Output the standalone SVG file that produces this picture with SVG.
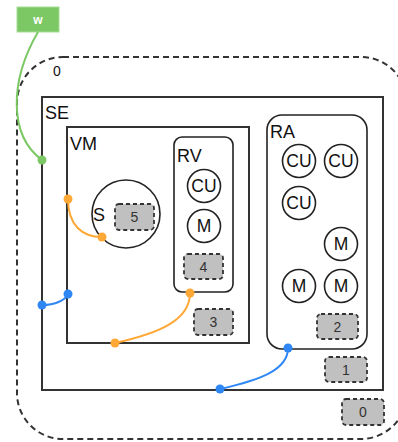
<svg xmlns="http://www.w3.org/2000/svg" width="398" height="442" viewBox="0 0 398 442">
<style>
.box{fill:none;stroke:#333;stroke-width:2}
.circ{fill:#fff;stroke:#222;stroke-width:1.6}
.lbl{font-family:"Liberation Sans",Arial,sans-serif;font-size:18px;fill:#111}
.clbl{font-family:"Liberation Sans",Arial,sans-serif;font-size:17.5px;fill:#111;text-anchor:middle}
.tag{fill:#c0c0c0;stroke:#333;stroke-width:1.8;stroke-dasharray:4,3}
.tagt{font-family:"Liberation Sans",Arial,sans-serif;font-size:14px;fill:#333;text-anchor:middle}
.c-green{fill:none;stroke:#7cc865;stroke-width:2}
.c-orange{fill:none;stroke:#ffa836;stroke-width:2}
.c-blue{fill:none;stroke:#2f87f5;stroke-width:2}
</style>
<rect width="398" height="442" fill="#fff"/>
<g id="n0">
<rect x="17" y="57" width="390" height="382" rx="46" fill="none" stroke="#333" stroke-width="2" stroke-dasharray="6,4"/>
<text x="53" y="76" class="lbl" style="font-size:14px">0</text>
<rect x="342" y="399" width="42" height="26" rx="4" class="tag"/>
<text x="363" y="417" class="tagt">0</text>
</g>
<g id="SE">
<rect x="42" y="97" width="341" height="293" class="box"/>
<text x="45" y="119" class="lbl">SE</text>
<rect x="325" y="357" width="42" height="25" rx="4" class="tag"/>
<text x="346" y="375" class="tagt">1</text>
</g>
<g id="VM">
<rect x="67" y="127" width="182" height="216" class="box"/>
<text x="70" y="150" class="lbl">VM</text>
<rect x="194" y="309" width="39" height="26" rx="4" class="tag"/>
<text x="213.5" y="327" class="tagt">3</text>
</g>
<g id="S">
<circle cx="126" cy="214" r="34" fill="#fff" stroke="#222" stroke-width="1.6"/>
<text x="93" y="221" class="lbl">S</text>
<rect x="115" y="204" width="39" height="26" rx="4" class="tag"/>
<text x="134.5" y="222" class="tagt">5</text>
</g>
<g id="RV">
<rect x="174" y="137" width="59" height="155" rx="8" fill="#fff" stroke="#222" stroke-width="1.6"/>
<text x="177" y="162" class="lbl">RV</text>
<rect x="184" y="254" width="39" height="25" rx="4" class="tag"/>
<text x="203.5" y="272" class="tagt">4</text>
</g>
<g id="RV-CU"><circle cx="204" cy="186" r="16.5" class="circ"/><text x="204" y="192" class="clbl">CU</text></g>
<g id="RV-M"><circle cx="204" cy="226" r="16.5" class="circ"/><text x="204" y="232" class="clbl">M</text></g>
<g id="RA">
<rect x="267" y="115" width="100" height="234" rx="15" fill="#fff" stroke="#222" stroke-width="1.6"/>
<text x="270" y="138" class="lbl">RA</text>
<rect x="317" y="314" width="41" height="25" rx="4" class="tag"/>
<text x="337.5" y="332" class="tagt">2</text>
</g>
<g id="RA-CU1"><circle cx="299" cy="161" r="16.5" class="circ"/><text x="299" y="167" class="clbl">CU</text></g>
<g id="RA-CU2"><circle cx="341" cy="161" r="16.5" class="circ"/><text x="341" y="167" class="clbl">CU</text></g>
<g id="RA-CU3"><circle cx="299" cy="203" r="16.5" class="circ"/><text x="299" y="209" class="clbl">CU</text></g>
<g id="RA-M1"><circle cx="341" cy="244" r="16.5" class="circ"/><text x="341" y="250" class="clbl">M</text></g>
<g id="RA-M2"><circle cx="299" cy="286" r="16.5" class="circ"/><text x="299" y="292" class="clbl">M</text></g>
<g id="RA-M3"><circle cx="341" cy="286" r="16.5" class="circ"/><text x="341" y="292" class="clbl">M</text></g>
<g id="w">
<rect x="17" y="7" width="42" height="25" fill="#7cc865" stroke="#a8dd98" stroke-width="1"/>
<text x="38" y="24" style="font-family:'Liberation Sans',Arial,sans-serif;font-size:12px;fill:#fff;font-weight:bold;text-anchor:middle">w</text>
</g>
<g id="connectors">
<path class="c-green" d="M38,32 C10,80 8,135 42,160"/>
<circle cx="42" cy="160" r="4.5" fill="#7cc865"/>
<path class="c-orange" d="M68,199 C68,225 82,237 102,237"/>
<circle cx="68" cy="199" r="4.5" fill="#ffa836"/>
<circle cx="102" cy="237" r="4.5" fill="#ffa836"/>
<path class="c-blue" d="M42,305 C55,305 66,300 68,294"/>
<circle cx="42" cy="305" r="4.5" fill="#2f87f5"/>
<circle cx="68" cy="294" r="4.5" fill="#2f87f5"/>
<path class="c-orange" d="M115,343 C160,333 190,320 190,293"/>
<circle cx="115" cy="343" r="4.5" fill="#ffa836"/>
<circle cx="190" cy="293" r="4.5" fill="#ffa836"/>
<path class="c-blue" d="M220,389 C260,380 288,370 288,348"/>
<circle cx="220" cy="389" r="4.5" fill="#2f87f5"/>
<circle cx="288" cy="348" r="4.5" fill="#2f87f5"/>
</g>
</svg>
